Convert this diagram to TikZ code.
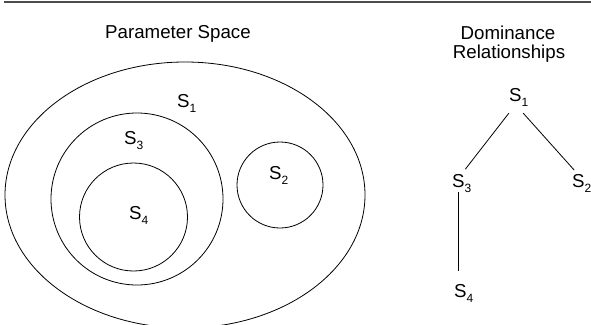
\documentclass[tikz,border=0pt]{standalone}
\usepackage{fontspec}
\setmainfont{Liberation Sans}
\usetikzlibrary{positioning}
\newcommand{\sname}[1]{S\raisebox{-5pt}{\fontsize{12}{12}\selectfont #1}}
\tikzset{
  lbl/.style={font=\fontsize{18.7}{22}\selectfont,inner sep=0pt,anchor=base west},
  ttl/.style={font=\fontsize{18.7}{22}\selectfont,inner sep=0pt,anchor=base},
  region/.style={line width=0.8pt},
  edge/.style={line width=0.8pt},
  toprule/.style={line width=1.6pt,black!70},
}

\begin{document}
\begin{tikzpicture}[x=1pt,y=-1pt]
  \useasboundingbox (0,0) rectangle (591,324);
  \draw[toprule] (4,2)--(591,2);
  % parameter space: nested regions
  \node[ttl] (ptitle) at (178,38) {Parameter Space};
  \begin{scope}
    \clip (0,0) rectangle (591,324);
    \draw[region] (185,195) ellipse [x radius=180,y radius=133];
  \end{scope}
  \draw[region] (137,199) circle[radius=86];
  \draw[region] (133.5,217) circle[radius=54];
  \draw[region] (280,185) circle[radius=43];
  \node[lbl] (r1) at (177,107) {\sname{1}};
  \node[lbl] (r3) at (124,144) {\sname{3}};
  \node[lbl] (r4) at (129,219) {\sname{4}};
  \node[lbl] (r2) at (269,179) {\sname{2}};
  % dominance tree
  \node[ttl] (dtitle) at (508,39.5) {Dominance};
  \node[ttl] (dsub) at (509,58.5) {Relationships};
  \node[lbl] (s1) at (509,101) {\sname{1}};
  \node[lbl] (s3) at (452,187) {\sname{3}};
  \node[lbl] (s2) at (572,187) {\sname{2}};
  \node[lbl] (s4) at (454,297) {\sname{4}};
  \draw[edge,shorten <=8.8pt,shorten >=5.8pt] ([xshift=-4.5pt]s1.south) -- (s3.north);
  \draw[edge,shorten <=9.4pt,shorten >=4.8pt] ([xshift=-1.8pt]s1.south) -- ([xshift=-4.3pt]s2.north);
  \draw[edge,shorten >=13pt] ([xshift=-3.5pt]s3.south) -- ([xshift=-5.5pt]s4.north);
\end{tikzpicture}
\end{document}
